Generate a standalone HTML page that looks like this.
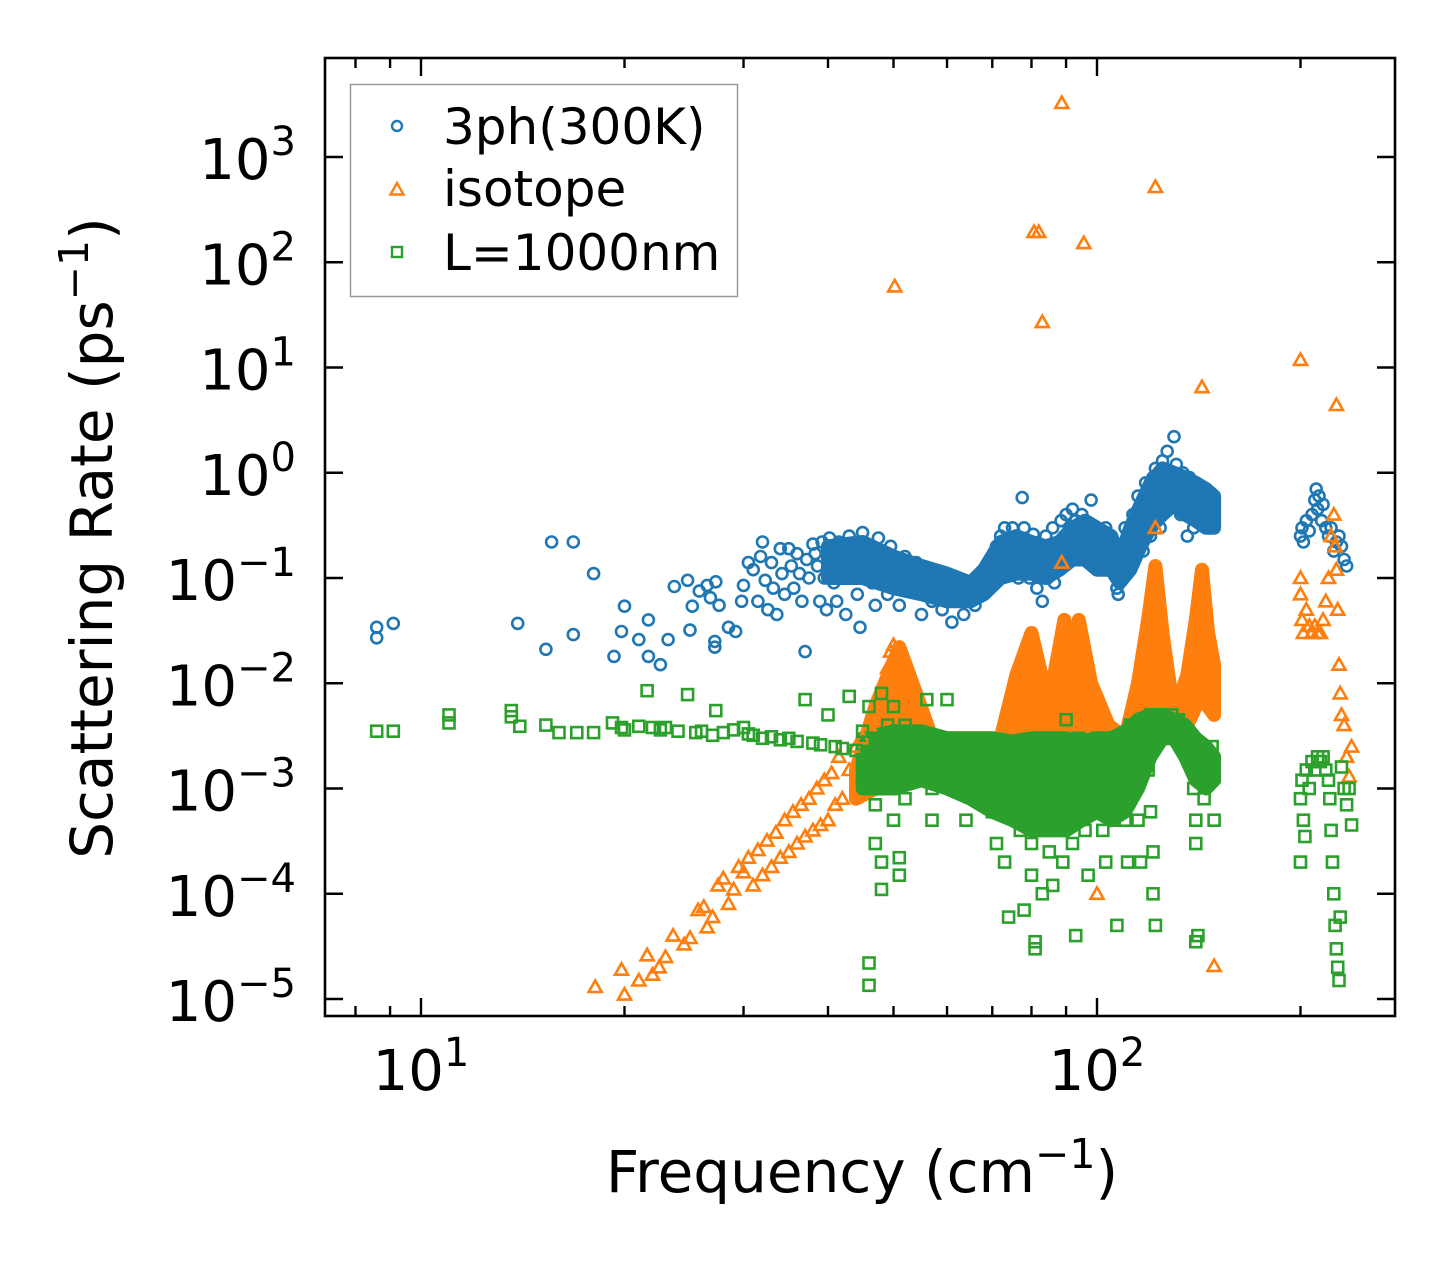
<!DOCTYPE html>
<html><head><meta charset="utf-8"><style>
html,body{margin:0;padding:0;background:#fff;}
svg{display:block;font-family:"DejaVu Sans","Liberation Sans",sans-serif;}
</style></head><body>
<svg id="chart" width="1455" height="1265" viewBox="0 0 1455 1265">
<rect x="0" y="0" width="1455" height="1265" fill="#fff"/>
<g id="bands"></g>
<g id="marks"></g>
<rect x="325" y="58" width="1070" height="958" fill="none" stroke="#000" stroke-width="2.6"/>
<g id="ticks"></g>
<text x="862" y="1192" font-size="58" text-anchor="middle">Frequency (cm<tspan dy="-24" font-size="41">−1</tspan><tspan dy="24">)</tspan></text>
<text transform="translate(112,538) rotate(-90)" font-size="58" text-anchor="middle">Scattering Rate (ps<tspan dy="-24" font-size="41">−1</tspan><tspan dy="24">)</tspan></text>
<g>
<rect x="350.5" y="84.5" width="387" height="212" fill="#fff" fill-opacity="0.8" stroke="#999" stroke-width="1.5"/>
<circle cx="397" cy="126" r="5" fill="none" stroke="#1f77b4" stroke-width="2.4"/>
<polygon points="397,183 403.5,194.5 390.5,194.5" fill="none" stroke="#ff7f0e" stroke-width="2.4"/>
<rect x="392" y="247" width="10" height="10" fill="none" stroke="#2ca02c" stroke-width="2.4"/>
<text x="443" y="144" font-size="50">3ph(300K)</text>
<text x="443" y="206" font-size="50">isotope</text>
<text x="443" y="270" font-size="50">L=1000nm</text>
</g>
</svg>
<script>
// ---- data ----
const xTicks = [1, 2];
const yTicks = [-5, -4, -3, -2, -1, 0, 1, 2, 3];
const xMinor = [8, 9, 20, 30, 40, 50, 60, 70, 80, 90, 200];

const blueF = [8.6,8.6,9.1,13.9,15.3,15.6,16.8,16.8,18.0,19.3,19.8,20.0,21.0,21.7,21.7,22.6,23.2,23.7,24.8,25.2,25.0,25.8,26.5,26.8,27.3,27.6,27.2,27.2,28.5,29.2,29.8,30.0,30.5,31,31.5,31.8,32.0,32.3,32.6,33,33.2,33.6,34,34.2,34.5,35,35.3,35.6,36,36.3,36.6,37,37.2,37.5,38,38.3,38.6,38.9,39.2,39.5,39.8,40.2,40.5,40.8,41.2,41.5,41.8,42.2,42.5,43,43.4,43.8,44.2,44.6,45,45.5,46,46.5,47,47.5,48,48.5,49,49.5,50,50.5,51,52,52.5,53,54,54.5,55,56,56.5,57,58,58.5,59,60,60.5,61,62,63,63.5,64,65,66,67,68,69,70,70.5,71,72,72.5,73,73.5,74,74.5,75,75.5,76,76.5,77,77.5,78,78.5,79,79.5,80,80.5,81,81.5,82,82.5,83,83.5,84,84.5,85,85.5,86,86.5,87,87.5,88,88.5,89,89.5,90,90.5,91,92,92.5,93,94,95,96,97,98,99,100,101,102,103,104,105,106,107,107.5,108,109,110,111,112,113,114,115,116,117,118,119,120,121,122,123,124,125,126,127,128,129,130,131,132,133,134,135,136,137,138,139,140,141,142,143,144,145,146,147,148,149,200,201,202,204,206,208,210,211,212,213,215,216,218,220,222,224,226,228,230,232,234];
const blueR = [.034,.027,.037,.037,.021,.22,.22,.029,.11,.018,.031,.054,.026,.040,.018,.015,.026,.083,.095,.054,.032,.075,.085,.065,.092,.055,.022,.025,.034,.031,.06,.085,.14,.12,.06,.16,.22,.095,.05,.14,.08,.045,.19,.11,.07,.19,.13,.08,.17,.11,.06,.02,.15,.1,.21,.17,.13,.06,.22,.1,.05,.24,.17,.09,.06,.22,.14,.1,.045,.25,.18,.12,.07,.034,.27,.2,.14,.09,.055,.24,.18,.12,.07,.2,.15,.1,.055,.16,.12,.08,.14,.1,.045,.12,.08,.06,.11,.075,.05,.1,.07,.038,.09,.06,.045,.08,.07,.055,.09,.07,.12,.15,.1,.2,.25,.14,.3,.19,.12,.22,.3,.15,.25,.1,.2,.58,.3,.14,.22,.1,.18,.26,.13,.08,.2,.12,.06,.15,.25,.1,.18,.13,.3,.09,.15,.22,.12,.35,.17,.25,.4,.2,.3,.45,.25,.35,.18,.4,.3,.25,.55,.2,.3,.25,.2,.3,.25,.18,.13,.08,.07,.1,.15,.3,.2,.12,.4,.25,.6,.35,.18,.8,.5,.25,.9,1.1,.6,.3,1.3,.8,1.6,1.0,.5,2.2,1.2,.8,.4,1.0,.7,.25,.9,.5,.3,.7,.45,.6,.35,.5,.4,.55,.3,.5,.45,.25,.3,.22,.35,.28,.4,.55,.7,.45,.6,.35,.5,.3,.25,.3,.18,.22,.25,.2,.15,.13];

const blueBandF  = [40,45,50,55,60,65,68,72,76,80,84,88,92,96,100,105,108,112,116,120,125,130,135,140,145,149];
const blueBandLo = [.1,.1,.08,.07,.06,.06,.07,.1,.11,.11,.1,.12,.15,.15,.12,.12,.09,.12,.2,.3,.4,.5,.4,.35,.3,.3];
const blueBandHi = [.2,.22,.16,.13,.11,.09,.12,.22,.25,.22,.2,.22,.3,.35,.3,.25,.15,.3,.5,.8,1.1,1.0,.9,.8,.7,.6];

const orangeF = [18.1,19.8,20,21,21.6,22,22.5,23,23.6,24.5,25,25.7,26.2,26.5,27,27.5,28,28.5,29,29.5,30,30.5,31,31.5,32,32.5,33,33.5,34,34.5,35,35.5,36,36.5,37,37.5,38,38.5,39,39.5,40,40.5,41,41.5,42,43,44,45,46,47,48,48.5,49,49.5,50,50.5,51,52,53,54,50.2,80.7,82,83,88.7,95.6,122,143,200,226,149,88.7,122,100,200,200,201,202,204,206,208,210,212,214,216,218,220,222,224,225,226,227,228,229,230,232,234,236,238];
const orangeR = [1.3e-5,1.9e-5,1.1e-5,1.5e-5,2.6e-5,1.7e-5,2e-5,2.5e-5,4e-5,3.3e-5,3.8e-5,7e-5,7.5e-5,4.8e-5,6e-5,1.2e-4,1.4e-4,8e-5,1.1e-4,1.8e-4,1.6e-4,2.2e-4,1.2e-4,2.6e-4,1.5e-4,3.2e-4,1.8e-4,3.8e-4,2.2e-4,5e-4,2.5e-4,6e-4,3e-4,7e-4,3.5e-4,8e-4,4e-4,1e-3,4.5e-4,1.2e-3,5e-4,1.4e-3,7e-4,2e-3,8e-4,1.5e-3,2.5e-3,3e-3,4e-3,6e-3,8e-3,1e-2,1.4e-2,.02,.023,.018,.013,.01,.007,.005,59,194,194,27,3260,152,519,6.5,11.8,4.4,2.06e-5,.14,.3,1e-4,.1,.07,.04,.03,.05,.035,.03,.035,.03,.03,.04,.06,.1,.25,.4,.2,.12,.05,.015,.008,.005,.004,.002,.0013,.0025];

const orangeBandF  = [44,47,51,54,57,72,76,80,84,86,89.5,91.5,94,98,104,110,115,119,122,125,130,136,140,143,146,149];
const orangeBandLo = [.0008,.001,.002,.002,.0015,.002,.002,.003,.002,.002,.003,.003,.003,.002,.002,.002,.003,.004,.005,.004,.003,.004,.006,.01,.006,.005];
const orangeBandHi = [.0015,.006,.022,.008,.003,.003,.012,.03,.008,.01,.04,.015,.04,.01,.004,.003,.01,.04,.13,.03,.005,.012,.04,.12,.03,.015];

const greenF = [8.6,9.1,11,11,13.6,13.6,14,15.3,16,17,18,19.2,19.8,20,21,21.6,22,22.6,23,24,24.8,25.5,26,27,27.3,28,29,30,30.5,31,32,33,34,35,36,37,38,39,40,41,42,43,44,45,45,46,46,46,46,46,47,47,47,47,48,48,48,49,49,49,50,50,50,50,51,51,52,52,52,53,54,55,55,56,56,57,57,58,59,60,60,61,62,63,64,64,65,66,67,68,69,70,70,71,72,72,73,74,75,76,77,78,78,79,80,80,81,81,82,82,83,83,84,84,85,85,86,87,87,88,88,89,90,90,91,92,93,94,95,96,97,98,99,100,101,102,103,104,105,106,107,108,109,110,111,112,113,114,115,116,117,118,119,120,120,121,121,122,122,123,124,125,126,127,128,129,130,131,132,133,134,135,136,137,138,139,140,140,140,141,142,143,144,145,146,147,148,149,149,200,200,201,202,203,204,206,208,210,212,214,216,218,220,221,222,223,224,225,226,227,228,229,230,232,234,236,238];
const greenR = [3.5e-3,3.5e-3,5e-3,4.2e-3,5.5e-3,4.8e-3,3.9e-3,4e-3,3.4e-3,3.4e-3,3.4e-3,4.2e-3,3.8e-3,3.6e-3,3.9e-3,8.5e-3,3.8e-3,3.6e-3,3.8e-3,3.5e-3,7.8e-3,3.4e-3,3.5e-3,3.2e-3,5.5e-3,3.4e-3,3.6e-3,3.8e-3,3.3e-3,3.2e-3,3e-3,3.1e-3,2.9e-3,3e-3,2.8e-3,7e-3,2.7e-3,2.6e-3,5e-3,2.5e-3,2.4e-3,7.5e-3,2.3e-3,3.5e-3,1.3e-3,6e-3,2e-3,1e-3,2.2e-5,1.35e-5,3e-3,1.5e-3,7e-4,3e-4,8e-3,2e-4,1.1e-4,4e-3,2.5e-3,1.2e-3,6e-3,3e-3,1e-3,5e-4,2.2e-4,1.5e-4,4e-3,2e-3,8e-4,3e-3,2e-3,3e-3,1.5e-3,7e-3,2.5e-3,1e-3,5e-4,3e-3,2e-3,7e-3,3e-3,1.5e-3,3e-3,2e-3,1e-3,5e-4,3e-3,2e-3,1e-3,3e-3,1.5e-3,2.5e-3,6e-4,3e-4,2e-3,1e-3,2e-4,6e-5,2.5e-3,1e-3,4e-4,2e-3,7e-5,1e-3,3e-4,1.5e-4,3e-5,3.5e-5,2e-3,8e-4,5e-4,1e-4,3e-3,1.5e-3,7e-4,2.5e-4,1.2e-4,2e-3,6e-4,3e-3,1e-3,2e-4,4.5e-3,2e-3,8e-4,3e-4,4e-5,3e-3,1e-3,4e-4,1.5e-4,2e-3,8e-4,3e-3,1.5e-3,4e-4,2e-4,3e-3,1e-3,5e-4,5e-5,3e-3,1.5e-3,5e-4,2e-4,4e-3,2e-3,1e-3,5e-4,2e-4,4.5e-3,3e-3,1.5e-3,5e-3,6e-4,2.5e-4,1e-4,5e-5,4.5e-3,3e-3,5e-3,4e-3,3.5e-3,4.5e-3,3e-3,5e-3,4e-3,3.8e-3,4.5e-3,3.5e-3,3.8e-3,3e-3,2.6e-3,3.2e-3,1.8e-3,1e-3,5e-4,3e-4,3.5e-5,4e-5,2e-3,1.5e-3,8e-4,1.2e-3,1.8e-3,1.3e-3,2.5e-3,1.3e-3,5e-4,2e-4,8e-4,1.2e-3,5e-4,3.5e-4,1.5e-3,1e-3,1.8e-3,1.5e-3,2e-3,1.8e-3,2e-3,1.5e-3,1.2e-3,8e-4,4e-4,2e-4,1e-4,5e-5,3e-5,2e-5,1.5e-5,6e-5,1.6e-3,1e-3,7e-4,1e-3,4.5e-4];

const greenBandF  = [45,50,55,60,65,70,75,80,85,90,95,100,105,110,115,120,125,130,135,140,145,149];
const greenBandLo = [.001,.001,.0012,.001,.0008,.0006,.0005,.0004,.0004,.0004,.0005,.0006,.0005,.0006,.001,.002,.003,.003,.002,.0012,.001,.0012];
const greenBandHi = [.003,.0035,.0035,.003,.003,.003,.0028,.003,.003,.003,.0028,.003,.003,.0035,.0045,.005,.005,.0045,.004,.003,.0025,.002];

// ---- axes ----
const X = f => 421 + 676 * (Math.log10(f) - 1);
const Y = r => 157 + 105.25 * (3 - Math.log10(r));
const NS = 'http://www.w3.org/2000/svg';
function mk(tag, attrs, parent) {
  const el = document.createElementNS(NS, tag);
  for (const k in attrs) el.setAttribute(k, attrs[k]);
  parent.appendChild(el);
  return el;
}
const bands = document.getElementById('bands');
const marks = document.getElementById('marks');
const ticks = document.getElementById('ticks');

function band(F, Lo, Hi, color, name) {
  const pts = [];
  for (let i = 0; i < F.length; i++) pts.push(X(F[i]).toFixed(1) + ',' + Y(Hi[i]).toFixed(1));
  for (let i = F.length - 1; i >= 0; i--) pts.push(X(F[i]).toFixed(1) + ',' + Y(Lo[i]).toFixed(1));
  const p = mk('polygon', {points: pts.join(' '), fill: color, stroke: color, 'stroke-width': 14, 'stroke-linejoin': 'round'}, bands);
  
  
}
band(blueBandF, blueBandLo, blueBandHi, '#1f77b4', 'band-3ph');
band(orangeBandF, orangeBandLo, orangeBandHi, '#ff7f0e', 'band-isotope');
band(greenBandF, greenBandLo, greenBandHi, '#2ca02c', 'band-l1000');

const gB = mk('g', {fill: 'none', stroke: '#1f77b4', 'stroke-width': 2.6}, marks);


const gO = mk('g', {fill: 'none', stroke: '#ff7f0e', 'stroke-width': 2.6}, marks);


const gG = mk('g', {fill: 'none', stroke: '#2ca02c', 'stroke-width': 2.6}, marks);


for (let i = 0; i < blueF.length; i++) {
  const c = mk('circle', {cx: X(blueF[i]).toFixed(1), cy: Y(blueR[i]).toFixed(1), r: 5.5}, gB);
  
  
}
for (let i = 0; i < orangeF.length; i++) {
  const x = X(orangeF[i]), y = Y(orangeR[i]);
  const t = mk('polygon', {points: `${x.toFixed(1)},${(y-6.5).toFixed(1)} ${(x+6.5).toFixed(1)},${(y+5).toFixed(1)} ${(x-6.5).toFixed(1)},${(y+5).toFixed(1)}`}, gO);
  
  
}
for (let i = 0; i < greenF.length; i++) {
  const s = mk('rect', {x: (X(greenF[i]) - 5.5).toFixed(1), y: (Y(greenR[i]) - 5.5).toFixed(1), width: 11, height: 11}, gG);
  
  
}

// ticks
const tk = {stroke: '#000', 'stroke-width': 2.4};
for (const e of yTicks) {
  const y = Y(Math.pow(10, e));
  const a = mk('line', Object.assign({x1: 325, x2: 343, y1: y, y2: y}, tk), ticks);
  
  
  const b = mk('line', Object.assign({x1: 1377, x2: 1395, y1: y, y2: y}, tk), ticks);
  
  
  const t = mk('text', {x: 296, y: y + 22, 'font-size': 56, 'text-anchor': 'end'}, ticks);
  
  
  t.innerHTML = '10<tspan dy="-24" font-size="40">' + (e < 0 ? '−' + (-e) : e) + '</tspan>';
}
for (const e of xTicks) {
  const x = X(Math.pow(10, e));
  const a = mk('line', Object.assign({x1: x, x2: x, y1: 998, y2: 1016}, tk), ticks);
  
  
  const b = mk('line', Object.assign({x1: x, x2: x, y1: 58, y2: 76}, tk), ticks);
  
  
  const t = mk('text', {x: x, y: 1090, 'font-size': 56, 'text-anchor': 'middle'}, ticks);
  
  
  t.innerHTML = '10<tspan dy="-24" font-size="40">' + e + '</tspan>';
}
for (const f of xMinor) {
  const x = X(f);
  const a = mk('line', Object.assign({x1: x, x2: x, y1: 1006, y2: 1016}, tk), ticks);
  
  
  const b = mk('line', Object.assign({x1: x, x2: x, y1: 58, y2: 68}, tk), ticks);
  
  
}
</script>
</body></html>
